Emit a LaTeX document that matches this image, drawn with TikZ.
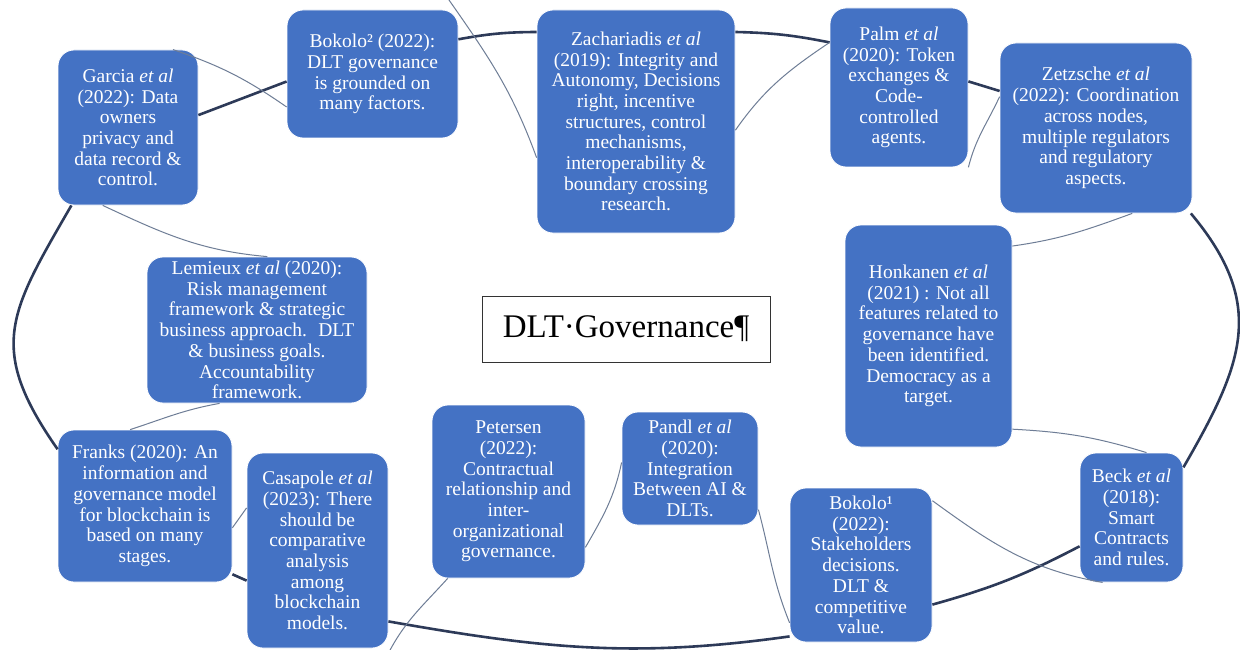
\documentclass[tikz,border=0pt]{standalone}
\usepackage{fontspec}
\setmainfont{Liberation Serif}
\usepackage{tikz}
\tikzset{
  >=latex,
}
\definecolor{boxblue}{HTML}{4472C4}
\definecolor{ringdark}{RGB}{45,58,88}
\definecolor{ringthin}{RGB}{110,125,150}
\tikzstyle{study}=[rectangle,rounded corners=16pt,fill=boxblue,draw=white,line width=.8pt,
  text=white,align=center,inner sep=0pt,font=\fontsize{19.5}{20.7}\selectfont]
\tikzstyle{ring}=[draw=ringdark,line width=2.6pt]
\tikzstyle{link}=[draw=ringthin,line width=1pt]
\tikzstyle{title}=[rectangle,draw=black!80,line width=1pt,fill=white,inner sep=0pt,
  font=\fontsize{33}{36}\selectfont]

\begin{document}
\begin{tikzpicture}[x=1pt,y=-1pt]
    \useasboundingbox[fill=white] (0,0) rectangle (1240,650);
    \node[study,minimum width=140pt,minimum height=155pt] (garcia) at (128,127.5)
      {Garcia \textit{et al}\\(2022): Data\\owners\\privacy and\\data record \&\\control.};
    \node[study,minimum width=171pt,minimum height=128pt] (bokoloB) at (372.5,74)
      {Bokolo² (2022):\\DLT governance\\is grounded on\\many factors.};
    \node[study,minimum width=198pt,minimum height=223pt] (zach) at (636,121.5)
      {Zachariadis \textit{et al}\\(2019): Integrity and\\Autonomy, Decisions\\right, incentive\\structures, control\\mechanisms,\\interoperability \&\\boundary crossing\\research.};
    \node[study,minimum width=138pt,minimum height=159pt] (palm) at (899,87.5)
      {Palm \textit{et al}\\(2020): Token\\exchanges \&\\Code-\\controlled\\agents.};
    \node[study,minimum width=192pt,minimum height=170pt] (zetz) at (1096,128)
      {Zetzsche \textit{et al}\\(2022): Coordination\\across nodes,\\multiple regulators\\and regulatory\\aspects.};
    \node[study,minimum width=167pt,minimum height=222pt] (honk) at (928.5,336)
      {Honkanen \textit{et al}\\(2021) : Not all\\features related to\\governance have\\been identified.\\Democracy as a\\target.};
    \node[study,minimum width=103pt,minimum height=129pt] (beck) at (1131.5,517.5)
      {Beck \textit{et al}\\(2018):\\Smart\\Contracts\\and rules.};
    \node[study,minimum width=142pt,minimum height=154pt] (bokoloA) at (861,565)
      {Bokolo¹\\(2022):\\Stakeholders\\decisions.\\DLT \&\\competitive\\value.};
    \node[study,minimum width=136pt,minimum height=113pt] (pandl) at (690,468.5)
      {Pandl \textit{et al}\\(2020):\\Integration\\Between AI \&\\DLTs.};
    \node[study,minimum width=153pt,minimum height=173pt] (petersen) at (508.5,491.5)
      {Petersen\\(2022):\\Contractual\\relationship and\\inter-\\organizational\\governance.};
    \node[study,minimum width=141pt,minimum height=195pt] (casapole) at (317.5,550.5)
      {Casapole \textit{et al}\\(2023): There\\should be\\comparative\\analysis\\among\\blockchain\\models.};
    \node[study,minimum width=174pt,minimum height=152pt] (franks) at (145,506)
      {Franks (2020): An\\information and\\governance model\\for blockchain is\\based on many\\stages.};
    \node[study,minimum width=220pt,minimum height=146pt] (lemieux) at (257,330)
      {Lemieux \textit{et al} (2020):\\Risk management\\framework \& strategic\\business approach.~ DLT\\\& business goals.\\Accountability\\framework.};
    \node[title,minimum width=288pt,minimum height=66pt] (dlt) at (626,329) {DLT·Governance¶};
    \coordinate (topend) at (449,0);
    \coordinate (lowend) at (389,652);

    \draw[ring] (garcia.10) -- (bokoloB.185);
    \draw[ring] (bokoloB.22) to[bend left=5] (zach.138);
    \draw[ring] (zach.42) to[bend left=5] (palm.147);
    \draw[ring] (palm.5) -- (zetz.159);
    \draw[ring] (zetz.-42) to[out=-50,in=60,looseness=1.2] (beck.44);
    \draw[ring] (beck.209) to[bend left=6] (bokoloA.-29);
    \draw[ring] (bokoloA.225) to[out=188,in=-10] (casapole.-45);
    \draw[ring] (casapole.203) -- (franks.-38);
    \draw[ring] (franks.147) to[out=125,in=240,looseness=1.3] (garcia.234);

    \draw[link] (garcia.60) to[bend left=8] (bokoloB.201);
    \draw[link] (garcia.252) to[out=-25,in=175] (lemieux.82);
    \draw[link] (topend) to[out=-55,in=110] (zach.200);
    \draw[link] (zach.-5) to[out=55,in=214] (palm.147);
    \draw[link] (palm.-49) to[out=76,in=245] (zetz.162);
    \draw[link] (zetz.-67) to[out=200,in=8] (honk.47);
    \draw[link] (honk.-48) to[out=-3,in=163] (beck.77);
    \draw[link] (bokoloA.42) to[out=-36,in=170] (beck.246);
    \draw[link] (pandl.-31) to[out=-75,in=112] (bokoloA.219);
    \draw[link] (pandl.175) to[out=-102,in=60] (petersen.-36);
    \draw[link] (petersen.235) to[out=228,in=62] (lowend);
    \draw[link] (casapole.149) -- (franks.-14);
    \draw[link] (lemieux.243) to[out=190,in=18] (franks.101);
  \end{tikzpicture}
\end{document}
